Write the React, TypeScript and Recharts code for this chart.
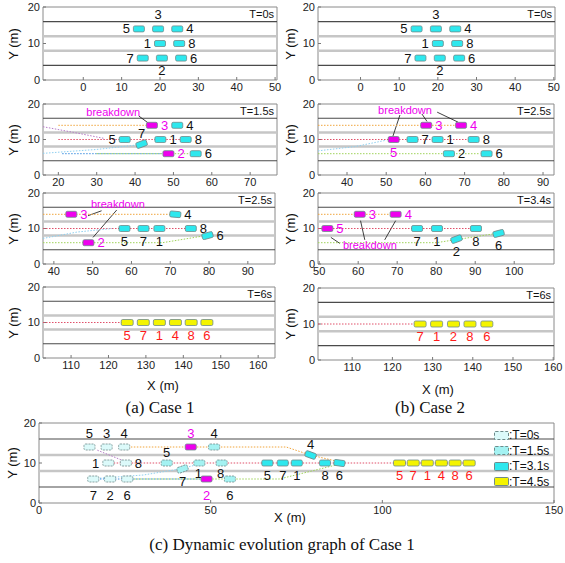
import React from 'react';
import { ScatterChart, Scatter, XAxis, YAxis, ReferenceLine, ReferenceArea } from 'recharts';

type Veh = { id: string; x: number; y: number; a?: number; k: string; s: string };
type Pt = { x: number; y: number };
type Traj = { c: string; pts: Pt[] };
type Note = { x: number; y: number; segs: [Pt, Pt][] };

// k = kind (n normal, b breakdown, f final platoon, 0/1/3 snapshot in case-1 evolution), s = label side
const Y_TICKS = [0, 10, 20];
const LANE_EDGES = [16, 4];
const LANE_DIVIDERS = [12, 8];

const ORANGE = '#f0a53c';
const PURPLE = '#b77cc8';
const RED = '#e0506a';
const LBLUE = '#8fd0f0';
const BLUE = '#3f8fe0';
const GREEN = '#9fd35a';

// ---- T = 0s (both cases)
const T0_TICKS = [0, 10, 20, 30, 40, 50];
const T0_VEH: Veh[] = [
  { id: '5', x: 14.5, y: 14, k: 'n', s: 'l' },
  { id: '3', x: 19.5, y: 14, k: 'n', s: 'T' },
  { id: '4', x: 24.5, y: 14, k: 'n', s: 'r' },
  { id: '1', x: 20, y: 10, k: 'n', s: 'l' },
  { id: '8', x: 25, y: 10, k: 'n', s: 'r' },
  { id: '7', x: 15.5, y: 6, k: 'n', s: 'l' },
  { id: '2', x: 20.5, y: 6, k: 'n', s: 'b' },
  { id: '6', x: 25.5, y: 6, k: 'n', s: 'r' },
];

// ---- case 1, T = 1.5s
const A2_TICKS = [20, 30, 40, 50, 60, 70];
const A2_VEH: Veh[] = [
  { id: '3', x: 44.4, y: 14, k: 'b', s: 'r' },
  { id: '4', x: 51, y: 14, k: 'n', s: 'r' },
  { id: '5', x: 37.3, y: 10, k: 'n', s: 'l' },
  { id: '7', x: 41.7, y: 8.7, a: 20, k: 'n', s: 't' },
  { id: '1', x: 46.6, y: 10, k: 'n', s: 'r' },
  { id: '8', x: 53.2, y: 10, k: 'n', s: 'r' },
  { id: '2', x: 48.7, y: 6, k: 'b', s: 'r' },
  { id: '6', x: 55.8, y: 6, k: 'n', s: 'r' },
];
const A2_TRAJ: Traj[] = [
  { c: ORANGE, pts: [{ x: 20, y: 14 }, { x: 43, y: 14 }] },
  { c: PURPLE, pts: [{ x: 16, y: 13.6 }, { x: 24, y: 12 }, { x: 32, y: 10.3 }] },
  { c: RED, pts: [{ x: 20, y: 10 }, { x: 52, y: 10 }] },
  { c: LBLUE, pts: [{ x: 16, y: 6.1 }, { x: 30, y: 7.2 }, { x: 40, y: 8.4 }] },
  { c: BLUE, pts: [{ x: 21, y: 6 }, { x: 47, y: 6 }] },
  { c: GREEN, pts: [{ x: 30, y: 6 }, { x: 54, y: 6 }] },
];
const A2_NOTE: Note = { x: 34.3, y: 17.7, segs: [[{ x: 41, y: 16.6 }, { x: 43.5, y: 14.6 }]] };

// ---- case 2, T = 2.5s
const B2_TICKS = [40, 50, 60, 70, 80, 90];
const B2_VEH: Veh[] = [
  { id: '3', x: 60.2, y: 14, k: 'b', s: 'r' },
  { id: '4', x: 69.1, y: 14, k: 'b', s: 'r' },
  { id: '5', x: 51.9, y: 10, k: 'b', s: 'b' },
  { id: '7', x: 56.7, y: 10, k: 'n', s: 'r' },
  { id: '1', x: 63.1, y: 10, k: 'n', s: 'r' },
  { id: '8', x: 72.3, y: 10, k: 'n', s: 'r' },
  { id: '2', x: 66, y: 6, k: 'n', s: 'r' },
  { id: '6', x: 75.6, y: 6, k: 'n', s: 'r' },
];
const B2_TRAJ: Traj[] = [
  { c: ORANGE, pts: [{ x: 32.6, y: 14 }, { x: 68, y: 14 }] },
  { c: RED, pts: [{ x: 32.6, y: 10 }, { x: 71, y: 10 }] },
  { c: LBLUE, pts: [{ x: 32.6, y: 6.8 }, { x: 42, y: 8 }, { x: 50, y: 9.8 }] },
  { c: GREEN, pts: [{ x: 32.6, y: 6 }, { x: 74, y: 6 }] },
];
const B2_NOTE: Note = {
  x: 54.8, y: 18.3,
  segs: [
    [{ x: 53.5, y: 16.9 }, { x: 51.7, y: 10.9 }],
    [{ x: 59.1, y: 17.2 }, { x: 60.4, y: 15.1 }],
    [{ x: 63, y: 17.7 }, { x: 68.3, y: 14.9 }],
  ],
};

// ---- case 1, T = 2.5s
const A3_TICKS = [40, 50, 60, 70, 80, 90];
const A3_VEH: Veh[] = [
  { id: '3', x: 44.5, y: 14, k: 'b', s: 'r' },
  { id: '2', x: 48.9, y: 6, k: 'b', s: 'r' },
  { id: '4', x: 71.3, y: 14, a: -5, k: 'n', s: 'r' },
  { id: '5', x: 58.2, y: 10, k: 'n', s: 'b' },
  { id: '7', x: 63.1, y: 10, k: 'n', s: 'b' },
  { id: '1', x: 67.2, y: 10, k: 'n', s: 'b' },
  { id: '8', x: 75.3, y: 10, k: 'n', s: 'r' },
  { id: '6', x: 79.6, y: 8, a: 15, k: 'n', s: 'r' },
];
const A3_TRAJ: Traj[] = [
  { c: ORANGE, pts: [{ x: 37.2, y: 14 }, { x: 70, y: 14 }] },
  { c: RED, pts: [{ x: 37.2, y: 10 }, { x: 74, y: 10 }] },
  { c: LBLUE, pts: [{ x: 37.2, y: 7.2 }, { x: 46, y: 9 }, { x: 55, y: 10 }] },
  { c: GREEN, pts: [{ x: 37.2, y: 6 }, { x: 68, y: 6 }, { x: 78, y: 7.8 }] },
];
const A3_NOTE: Note = {
  x: 56.5, y: 16.9,
  segs: [
    [{ x: 52.3, y: 15 }, { x: 48.8, y: 13.6 }],
    [{ x: 56.2, y: 15.2 }, { x: 50.1, y: 7.5 }],
  ],
};

// ---- case 2, T = 3.4s
const B3_TICKS = [50, 60, 70, 80, 90, 100];
const B3_VEH: Veh[] = [
  { id: '5', x: 52.1, y: 10, k: 'b', s: 'r' },
  { id: '3', x: 60.4, y: 14, k: 'b', s: 'r' },
  { id: '4', x: 69.6, y: 14, k: 'b', s: 'r' },
  { id: '7', x: 75.1, y: 10, k: 'n', s: 'b' },
  { id: '1', x: 80.2, y: 10, k: 'n', s: 'b' },
  { id: '8', x: 90.2, y: 10, k: 'n', s: 'b' },
  { id: '2', x: 85.2, y: 7, a: 20, k: 'n', s: 'b' },
  { id: '6', x: 96, y: 8.6, a: 15, k: 'n', s: 'b' },
];
const B3_TRAJ: Traj[] = [
  { c: ORANGE, pts: [{ x: 49.7, y: 14 }, { x: 68, y: 14 }] },
  { c: RED, pts: [{ x: 49.7, y: 10 }, { x: 89, y: 10 }] },
  { c: GREEN, pts: [{ x: 49.7, y: 6 }, { x: 80, y: 6 }, { x: 96, y: 8.7 }] },
];
const B3_NOTE: Note = {
  x: 63, y: 5.4,
  segs: [
    [{ x: 55.3, y: 5.8 }, { x: 53, y: 7.5 }],
    [{ x: 61.7, y: 6.8 }, { x: 60.6, y: 12.2 }],
    [{ x: 66.8, y: 6.8 }, { x: 69.6, y: 12.2 }],
  ],
};

// ---- T = 6s
const T6_TICKS = [110, 120, 130, 140, 150, 160];
const A4_VEH: Veh[] = [
  { id: '5', x: 125, y: 10, k: 'f', s: 'b' },
  { id: '7', x: 129.3, y: 10, k: 'f', s: 'b' },
  { id: '1', x: 133.6, y: 10, k: 'f', s: 'b' },
  { id: '4', x: 137.9, y: 10, k: 'f', s: 'b' },
  { id: '8', x: 142.1, y: 10, k: 'f', s: 'b' },
  { id: '6', x: 146.3, y: 10, k: 'f', s: 'b' },
];
const A4_TRAJ: Traj[] = [{ c: RED, pts: [{ x: 102.5, y: 10 }, { x: 124, y: 10 }] }];
const B4_VEH: Veh[] = [
  { id: '7', x: 126.9, y: 10, k: 'f', s: 'b' },
  { id: '1', x: 131, y: 10, k: 'f', s: 'b' },
  { id: '2', x: 135.2, y: 10, k: 'f', s: 'b' },
  { id: '8', x: 139.3, y: 10, k: 'f', s: 'b' },
  { id: '6', x: 143.5, y: 10, k: 'f', s: 'b' },
];
const B4_TRAJ: Traj[] = [{ c: RED, pts: [{ x: 101.5, y: 10 }, { x: 126, y: 10 }] }];

// ---- (c) dynamic evolution of case 1
const C_TICKS = [0, 50, 100, 150];
const C_VEH: Veh[] = [
  { id: '5', x: 14.7, y: 14, k: '0', s: 'T' },
  { id: '3', x: 19.7, y: 14, k: '0', s: 'T' },
  { id: '4', x: 24.8, y: 14, k: '0', s: 'T' },
  { id: '1', x: 20.2, y: 10, k: '0', s: 'l' },
  { id: '8', x: 25.3, y: 10, k: '0', s: 'r' },
  { id: '7', x: 15.8, y: 6, k: '0', s: 'B' },
  { id: '2', x: 20.7, y: 6, k: '0', s: 'B' },
  { id: '6', x: 25.7, y: 6, k: '0', s: 'B' },
  { id: '5', x: 37.2, y: 10, k: '1', s: 't' },
  { id: '7', x: 41.8, y: 8.5, a: 20, k: '1', s: 'b' },
  { id: '3', x: 44.2, y: 14, k: 'b', s: 'T' },
  { id: '4', x: 51, y: 14, k: '1', s: 'T' },
  { id: '1', x: 46.7, y: 10, k: '1', s: 'd' },
  { id: '8', x: 53.2, y: 10, k: '1', s: 'd' },
  { id: '2', x: 48.8, y: 6, k: 'b', s: 'B' },
  { id: '6', x: 55.6, y: 6, k: '1', s: 'B' },
  { id: '4', x: 79.1, y: 12, a: -20, k: '3', s: 't' },
  { id: '5', x: 66.5, y: 10, k: '3', s: 'b' },
  { id: '7', x: 71, y: 10, k: '3', s: 'b' },
  { id: '1', x: 75.1, y: 10, k: '3', s: 'b' },
  { id: '8', x: 83.3, y: 10, k: '3', s: 'b' },
  { id: '6', x: 87.5, y: 10, a: -8, k: '3', s: 'b' },
  { id: '5', x: 105, y: 10, k: 'f', s: 'b' },
  { id: '7', x: 109, y: 10, k: 'f', s: 'b' },
  { id: '1', x: 113.1, y: 10, k: 'f', s: 'b' },
  { id: '4', x: 117.2, y: 10, k: 'f', s: 'b' },
  { id: '8', x: 121.2, y: 10, k: 'f', s: 'b' },
  { id: '6', x: 125.3, y: 10, k: 'f', s: 'b' },
];
const C_TRAJ: Traj[] = [
  { c: ORANGE, pts: [{ x: 25, y: 14 }, { x: 72, y: 14 }, { x: 79, y: 12 }, { x: 88, y: 10.2 }] },
  { c: PURPLE, pts: [{ x: 17, y: 13.2 }, { x: 25.6, y: 10.2 }] },
  { c: RED, pts: [{ x: 20, y: 10 }, { x: 125, y: 10 }] },
  { c: LBLUE, pts: [{ x: 16, y: 6.1 }, { x: 30.4, y: 7 }, { x: 41, y: 8.5 }, { x: 48, y: 10 }] },
  { c: BLUE, pts: [{ x: 16, y: 6 }, { x: 49, y: 6 }] },
  { c: GREEN, pts: [{ x: 26, y: 6 }, { x: 70, y: 6 }, { x: 87, y: 9.6 }] },
];
const C_LEGEND = [
  { k: '0', label: ':T=0s' },
  { k: '1', label: ':T=1.5s' },
  { k: '3', label: ':T=3.1s' },
  { k: 'f', label: ':T=4.5s' },
];

const SANS = '"Liberation Sans", Arial, sans-serif';
const SERIF = '"Liberation Serif", "Times New Roman", serif';

const FILL: Record<string, string> = {
  n: '#2ee8ee', b: '#ee00ee', f: '#f4f400', '0': '#dcfafa', '1': '#a4f2f2', '3': '#2ee8ee',
};
const SIDE: Record<string, { dx: number; dy: number; anchor: string }> = {
  r: { dx: 9, dy: 4.5, anchor: 'start' },
  l: { dx: -9, dy: 4.5, anchor: 'end' },
  t: { dx: 0, dy: -6, anchor: 'middle' },
  T: { dx: 0, dy: -9.5, anchor: 'middle' },
  d: { dx: -1, dy: 14.5, anchor: 'middle' },
  b: { dx: 0, dy: 17, anchor: 'middle' },
  B: { dx: 0, dy: 21, anchor: 'middle' },
};

const VehShape = (p: any) => {
  const { cx, cy, payload } = p;
  if (cx == null || cy == null) return <g />;
  const k = payload.k;
  const w = k === 'f' ? 12 : 11;
  const h = 6;
  const side = SIDE[payload.s] || SIDE.r;
  const col = k === 'b' ? '#ee00ee' : k === 'f' ? '#ff1a1a' : '#111';
  return (
    <g>
      <rect
        x={cx - w / 2}
        y={cy - h / 2}
        width={w}
        height={h}
        rx={1.5}
        fill={FILL[k]}
        stroke="#6f8a8a"
        strokeWidth={0.8}
        strokeDasharray={k === '0' || k === '1' ? '2 1' : undefined}
        transform={payload.a ? `rotate(${-payload.a} ${cx} ${cy})` : undefined}
      />
      <text x={cx + side.dx} y={cy + side.dy} textAnchor={side.anchor as any} fontSize={13} fill={col} fontFamily={SANS}>
        {payload.id}
      </text>
    </g>
  );
};

const NoDot = () => <g />;

const NoteShape = (p: any) => {
  if (p.cx == null) return <g />;
  return (
    <text x={p.cx} y={p.cy + 4} textAnchor="middle" fontSize={11} fill="#ee00ee" fontFamily={SANS}>
      breakdown
    </text>
  );
};

const ML = 40;
const MB = 20;
const MT = 9;
const MR = 12;

function Panel(props: {
  l: number; t: number; w: number; h: number;
  dom: [number, number]; ticks: number[]; veh: Veh[];
  traj?: Traj[]; note?: Note; tLabel?: string; yLabelX: number;
}) {
  const { l, t, w, h, dom, ticks, veh, traj = [], note, tLabel, yLabelX } = props;
  const axisTick = { fontSize: 11, fill: '#222', fontFamily: SANS };
  return (
    <>
      <div style={{ position: 'absolute', left: l - ML, top: t - MT }}>
        <ScatterChart width={w + ML + MR} height={h + MT + MB} margin={{ top: MT, right: MR, bottom: 0, left: 0 }}>
          <XAxis
            type="number"
            dataKey="x"
            domain={dom}
            ticks={ticks}
            allowDataOverflow
            interval={0}
            height={MB}
            axisLine={false}
            tickLine={{ stroke: '#777' }}
            tickSize={-3}
            tickMargin={6}
            tick={axisTick}
          />
          <YAxis
            type="number"
            dataKey="y"
            domain={[0, 20]}
            ticks={Y_TICKS}
            allowDataOverflow
            interval={0}
            width={ML}
            axisLine={false}
            tickLine={{ stroke: '#777' }}
            tickSize={-3}
            tickMargin={6}
            tick={axisTick}
          />
          {LANE_DIVIDERS.map((y) => (
            <ReferenceLine key={`d${y}`} y={y} stroke="#c6c6c6" strokeWidth={2.5} />
          ))}
          {LANE_EDGES.map((y) => (
            <ReferenceLine key={`e${y}`} y={y} stroke="#4a4a4a" strokeWidth={1.1} />
          ))}
          <ReferenceArea x1={dom[0]} x2={dom[1]} y1={0} y2={20} fill="none" fillOpacity={0} stroke="#8a8a8a" strokeWidth={1} />
          {traj.map((tr, i) => (
            <Scatter
              key={`tr${i}`}
              data={tr.pts}
              line={{ stroke: tr.c, strokeWidth: 1, strokeDasharray: '1.5 1.5' }}
              shape={NoDot}
              isAnimationActive={false}
            />
          ))}
          {note &&
            note.segs.map((seg, i) => (
              <ReferenceLine key={`s${i}`} segment={seg} stroke="#111" strokeWidth={0.8} />
            ))}
          {note && <Scatter data={[{ x: note.x, y: note.y }]} shape={NoteShape} isAnimationActive={false} />}
          <Scatter data={veh} shape={VehShape} isAnimationActive={false} />
        </ScatterChart>
      </div>
      {tLabel && (
        <div style={{ position: 'absolute', left: l + w - 60, width: 57, top: t + 1, textAlign: 'right', fontSize: 11, fontFamily: SANS, color: '#111' }}>
          {tLabel}
        </div>
      )}
      <div
        style={{
          position: 'absolute', left: yLabelX, top: t + h / 2, fontSize: 13, fontFamily: SANS, color: '#111',
          transform: 'translate(-50%, -50%) rotate(-90deg)', whiteSpace: 'nowrap',
        }}
      >
        Y (m)
      </div>
    </>
  );
}

function Txt({ x, y, size, font, children }: { x: number; y: number; size: number; font: string; children: React.ReactNode }) {
  return (
    <div style={{ position: 'absolute', left: x, top: y, transform: 'translate(-50%, -50%)', fontSize: size, fontFamily: font, color: '#111', whiteSpace: 'nowrap' }}>
      {children}
    </div>
  );
}

export default function App() {
  return (
    <div style={{ position: 'absolute', left: 0, top: 0, width: 565, height: 563, background: '#fff', overflow: 'hidden' }}>
      <Panel l={43} t={7} w={234} h={73} dom={[-10.5, 50.5]} ticks={T0_TICKS} veh={T0_VEH} tLabel="T=0s" yLabelX={13} />
      <Panel l={318} t={7} w={237} h={73} dom={[-11, 50.3]} ticks={T0_TICKS} veh={T0_VEH} tLabel="T=0s" yLabelX={290} />
      <Panel l={43} t={104} w={234} h={71} dom={[16, 77]} ticks={A2_TICKS} veh={A2_VEH} traj={A2_TRAJ} note={A2_NOTE} tLabel="T=1.5s" yLabelX={13} />
      <Panel l={318} t={104} w={236} h={71} dom={[32.6, 92.8]} ticks={B2_TICKS} veh={B2_VEH} traj={B2_TRAJ} note={B2_NOTE} tLabel="T=2.5s" yLabelX={290} />
      <Panel l={43} t={193} w={232} h={71} dom={[37.2, 97]} ticks={A3_TICKS} veh={A3_VEH} traj={A3_TRAJ} note={A3_NOTE} tLabel="T=2.5s" yLabelX={13} />
      <Panel l={318} t={193} w={236} h={71} dom={[49.7, 110.2]} ticks={B3_TICKS} veh={B3_VEH} traj={B3_TRAJ} note={B3_NOTE} tLabel="T=3.4s" yLabelX={290} />
      <Panel l={43} t={287} w={232} h={71} dom={[102.5, 164.5]} ticks={T6_TICKS} veh={A4_VEH} traj={A4_TRAJ} tLabel="T=6s" yLabelX={13} />
      <Panel l={318} t={288} w={236} h={72} dom={[101.5, 160.2]} ticks={T6_TICKS} veh={B4_VEH} traj={B4_TRAJ} tLabel="T=6s" yLabelX={290} />
      <Panel l={39} t={423} w={515} h={80} dom={[0, 150]} ticks={C_TICKS} veh={C_VEH} traj={C_TRAJ} yLabelX={12} />

      {/* legend of (c) */}
      {C_LEGEND.map((it, i) => (
        <div key={it.k} style={{ position: 'absolute', left: 494, top: 429 + i * 15.5, height: 12, display: 'flex', alignItems: 'center', fontSize: 12, fontFamily: SANS, color: '#111' }}>
          <span
            style={{
              display: 'inline-block', width: 13, height: 7, background: FILL[it.k], borderRadius: 1.5,
              border: `1px ${it.k === '0' || it.k === '1' ? 'dashed' : 'solid'} #6f8a8a`,
            }}
          />
          <span>{it.label}</span>
        </div>
      ))}

      <Txt x={163} y={385} size={13} font={SANS}>X (m)</Txt>
      <Txt x={438} y={389} size={13} font={SANS}>X (m)</Txt>
      <Txt x={290} y={517} size={13} font={SANS}>X (m)</Txt>
      <Txt x={160} y={408} size={17} font={SERIF}>(a) Case 1</Txt>
      <Txt x={430} y={408} size={17} font={SERIF}>(b) Case 2</Txt>
      <Txt x={282} y={545} size={17} font={SERIF}>(c) Dynamic evolution graph of Case 1</Txt>
    </div>
  );
}
